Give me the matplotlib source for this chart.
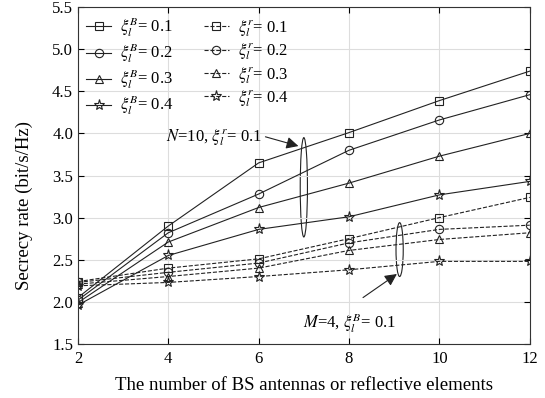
import numpy as np
import matplotlib
matplotlib.use("Agg")
import matplotlib.pyplot as plt
from matplotlib.patches import Ellipse

plt.rcParams['font.family'] = ['Liberation Serif', 'DejaVu Serif']
plt.rcParams['mathtext.fontset'] = 'stix'

# datos
x = [2, 4, 6, 8, 10, 12]
xi_vals = ["0.1", "0.2", "0.3", "0.4"]
markers = ["s", "o", "^", "*"]

# N=10, xi_r = 0.1 (lineas continuas, xi_B varia)
bs_rate = [
    [2.05, 2.90, 3.65, 4.01, 4.39, 4.74],
    [2.02, 2.82, 3.28, 3.80, 4.16, 4.46],
    [1.99, 2.71, 3.12, 3.41, 3.73, 4.00],
    [1.96, 2.55, 2.86, 3.01, 3.27, 3.43],
]
# M=4, xi_B = 0.1 (lineas discontinuas, xi_r varia)
ris_rate = [
    [2.24, 2.40, 2.51, 2.75, 3.00, 3.24],
    [2.23, 2.35, 2.46, 2.70, 2.86, 2.91],
    [2.21, 2.30, 2.40, 2.61, 2.74, 2.82],
    [2.19, 2.23, 2.30, 2.38, 2.48, 2.48],
]

fig = plt.figure(figsize=(5.45, 3.98), dpi=100)
ax = fig.add_axes([0.143, 0.136, 0.829, 0.846])

handles = []
for i in range(4):
    ms = 8 if markers[i] == "*" else 6
    h, = ax.plot(x, bs_rate[i], '-', color='#222222', lw=0.8, marker=markers[i],
                 ms=ms, mfc='none', mec='#222222', mew=0.8,
                 label=r'$\xi_l^B$= ' + xi_vals[i])
    handles.append(h)
for i in range(4):
    ms = 8 if markers[i] == "*" else 6
    h, = ax.plot(x, ris_rate[i], '--', color='#222222', lw=0.8, marker=markers[i],
                 ms=ms, mfc='none', mec='#222222', mew=0.8,
                 label=r'$\xi_l^r$= ' + xi_vals[i])
    handles.append(h)

ax.set_xlim(2, 12)
ax.set_ylim(1.5, 5.5)
ax.set_xticks(x)
ax.set_yticks(np.arange(1.5, 5.51, 0.5))
ax.set_yticklabels(["%.1f" % v for v in np.arange(1.5, 5.51, 0.5)])
ax.grid(True, color='#dddddd', lw=0.8)
ax.tick_params(direction='in', top=True, right=True, labelsize=12, length=4)
ax.tick_params(axis='x', pad=5)
for s in ax.spines.values():
    s.set_linewidth(0.8)
    s.set_color('#333333')

ax.set_xlabel("The number of BS antennas or reflective elements", fontsize=13.5,
              labelpad=7)
ax.set_ylabel("Secrecy rate (bit/s/Hz)", fontsize=13.5)
ax.yaxis.set_label_coords(-0.1, 0.41)

ax.legend(handles=handles, ncol=2, loc='upper left', frameon=False,
          fontsize=12, handlelength=1.5, handletextpad=0.55,
          columnspacing=1.8, labelspacing=0.15, borderaxespad=0.1)

# anotaciones
ax.add_patch(Ellipse((7.0, 3.36), 0.16, 1.18, fill=False, lw=0.8, ec='#222222'))
ax.add_patch(Ellipse((9.12, 2.62), 0.16, 0.64, fill=False, lw=0.8, ec='#222222'))
ax.text(6.07, 3.95, r'$N$=10, $\xi_l^r$= 0.1', fontsize=12, ha='right', va='center')
ax.annotate('', xy=(6.88, 3.85), xytext=(6.15, 3.96),
            arrowprops=dict(arrowstyle='-|>', color='#222222', lw=0.8,
                            mutation_scale=18, shrinkA=0, shrinkB=0))
ax.text(8.02, 1.75, r'$M$=4, $\xi_l^B$= 0.1', fontsize=12, ha='center', va='center')
ax.annotate('', xy=(9.06, 2.33), xytext=(8.31, 2.05),
            arrowprops=dict(arrowstyle='-|>', color='#222222', lw=0.8,
                            mutation_scale=18, shrinkA=0, shrinkB=0))

plt.savefig("out.png", dpi=100)
